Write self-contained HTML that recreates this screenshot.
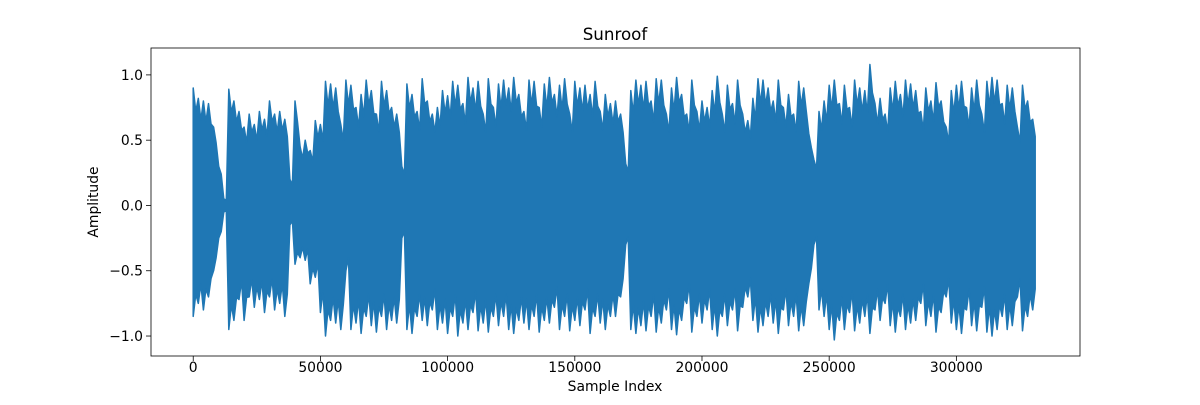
<!DOCTYPE html>
<html><head><meta charset="utf-8"><style>
html,body{margin:0;padding:0;background:#fff;}
svg text{font-family:"DejaVu Sans","Liberation Sans",sans-serif;fill:#000;}
</style></head><body>
<svg id="chart" width="1200" height="400" viewBox="0 0 1200 400" xmlns="http://www.w3.org/2000/svg">
<rect x="0" y="0" width="1200" height="400" fill="#fff"/>
<text x="615" y="40" font-size="16.7" text-anchor="middle">Sunroof</text>
<g id="plot"></g>
<g id="axes"></g>
<text x="615" y="391" font-size="13.9" text-anchor="middle">Sample Index</text>
<text x="0" y="0" font-size="13.9" text-anchor="middle" transform="translate(98,202) rotate(-90)">Amplitude</text>
</svg>
<script>
const binSize = 2000;
const topVals = [.90,.82,.80,.78,.60,.30,.05,.89,.80,.72,
.60,.70,.62,.72,.66,.80,.70,.72,.66,.20,
.80,.45,.50,.42,.65,.62,.95,.93,.90,.62,
.96,.92,.75,.85,.96,.88,.70,.95,.88,.75,
.70,.30,.93,.85,.72,.97,.80,.70,.75,.88,
.84,.95,.92,.78,.98,.90,.95,.70,.97,.75,
.93,.96,.90,.98,.85,.72,.96,.95,.75,.93,
.98,.85,.92,.97,.70,.95,.90,.92,.85,.95,
.72,.85,.78,.80,.70,.32,.88,.96,.92,.95,
.80,.97,.96,.70,.90,.98,.85,.70,.96,.72,
.80,.75,.88,.99,.70,.92,.78,.96,.70,.65,
.82,.97,.96,.90,.80,.96,.75,.85,.70,.95,
.90,.55,.35,.72,.80,.92,.96,.78,.92,.75,
.96,.90,.88,1.08,.78,.82,.70,.90,.95,.85,
.96,.93,.88,.72,.90,.80,.94,.80,.60,.88,
.92,.95,.75,.90,.96,.70,.95,.98,.96,.78,
.92,.90,.60,.92,.80,.66];
const bottomVals = [-.85,-.75,-.80,-.70,-.50,-.25,-.05,-.95,-.88,-.72,
-.88,-.70,-.78,-.72,-.82,-.70,-.80,-.75,-.85,-.15,
-.45,-.40,-.42,-.60,-.55,-.82,-1.00,-.88,-.90,-.95,
-.50,-.95,-.90,-.98,-.85,-.92,-.97,-.85,-.95,-.88,
-.90,-.25,-.95,-.98,-.85,-.88,-.92,-.80,-.95,-.90,
-.98,-.85,-1.00,-.90,-.95,-.82,-.96,-.90,-.97,-.85,
-.92,-.85,-.95,-.98,-.88,-.90,-.95,-.85,-.97,-.88,
-.90,-.78,-.95,-.85,-.96,-.88,-.92,-.80,-.98,-.85,
-.90,-.95,-.85,-.85,-.70,-.30,-.95,-.98,-.92,-.96,
-.85,-.97,-.90,-.80,-.95,-.99,-.88,-.75,-.97,-.85,
-.90,-.80,-.95,-1.00,-.85,-.92,-.80,-.96,-.78,-.70,
-.88,-.97,-.92,-.85,-.90,-.98,-.80,-.92,-.85,-.96,
-.92,-.60,-.30,-.80,-.85,-.95,-1.03,-.88,-.95,-.82,
-.96,-.90,-.85,-.98,-.80,-.88,-.75,-.92,-.97,-.85,
-.95,-.90,-.88,-.75,-.92,-.85,-.97,-.82,-.70,-.90,
-.95,-.98,-.80,-.92,-.96,-.78,-.97,-1.00,-.95,-.85,
-.95,-.92,-.70,-.96,-.85,-.80];
const xTicks = [0,50000,100000,150000,200000,250000,300000];
const yTicks = [-1.0,-0.5,0.0,0.5,1.0];
const yTickLabels = ["\u22121.0","\u22120.5","0.0","0.5","1.0"];

const L=151,R=1080,T=48,B=356;
const nSamples = topVals.length*binSize;
const xMin=-0.05*nSamples, xMax=1.05*nSamples;
const yMin=-1.153, yMax=1.206;
const sx=v=>L+(v-xMin)/(xMax-xMin)*(R-L);
const sy=v=>B-(v-yMin)/(yMax-yMin)*(B-T);
const NS="http://www.w3.org/2000/svg";
const plot=document.getElementById('plot');
const axes=document.getElementById('axes');

let pts=[];
for(let i=0;i<topVals.length;i++){
  pts.push(sx(i*binSize).toFixed(1)+','+sy(topVals[i]).toFixed(1));
  pts.push(sx(i*binSize+binSize*0.5).toFixed(1)+','+sy(topVals[i]*0.8).toFixed(1));
}
for(let i=bottomVals.length-1;i>=0;i--){
  pts.push(sx(i*binSize+binSize*0.5).toFixed(1)+','+sy(bottomVals[i]*0.8).toFixed(1));
  pts.push(sx(i*binSize).toFixed(1)+','+sy(bottomVals[i]).toFixed(1));
}
const poly=document.createElementNS(NS,'polygon');


poly.setAttribute('points',pts.join(' '));
poly.setAttribute('fill','#1f77b4');
poly.setAttribute('stroke','#1f77b4');
poly.setAttribute('stroke-width','1.5');
poly.setAttribute('stroke-linejoin','round');
plot.appendChild(poly);

const frame=document.createElementNS(NS,'rect');


frame.setAttribute('x',L);frame.setAttribute('y',T);
frame.setAttribute('width',R-L);frame.setAttribute('height',B-T);
frame.setAttribute('fill','none');frame.setAttribute('stroke','#000');frame.setAttribute('stroke-width','0.8');
axes.appendChild(frame);

xTicks.forEach(v=>{
  const x=sx(v);
  const ln=document.createElementNS(NS,'line');
  
  
  ln.setAttribute('x1',x);ln.setAttribute('x2',x);ln.setAttribute('y1',B);ln.setAttribute('y2',B+5);
  ln.setAttribute('stroke','#000');ln.setAttribute('stroke-width','0.8');
  axes.appendChild(ln);
  const t=document.createElementNS(NS,'text');
  
  
  t.setAttribute('x',x);t.setAttribute('y',B+16);t.setAttribute('font-size','13.9');t.setAttribute('text-anchor','middle');
  t.textContent=String(v);
  axes.appendChild(t);
});
yTicks.forEach((v,i)=>{
  const y=sy(v);
  const ln=document.createElementNS(NS,'line');
  
  
  ln.setAttribute('x1',L-5);ln.setAttribute('x2',L);ln.setAttribute('y1',y);ln.setAttribute('y2',y);
  ln.setAttribute('stroke','#000');ln.setAttribute('stroke-width','0.8');
  axes.appendChild(ln);
  const t=document.createElementNS(NS,'text');
  
  
  t.setAttribute('x',L-8);t.setAttribute('y',y+5);t.setAttribute('font-size','13.9');t.setAttribute('text-anchor','end');
  t.textContent=yTickLabels[i];
  axes.appendChild(t);
});
</script>
</body></html>
